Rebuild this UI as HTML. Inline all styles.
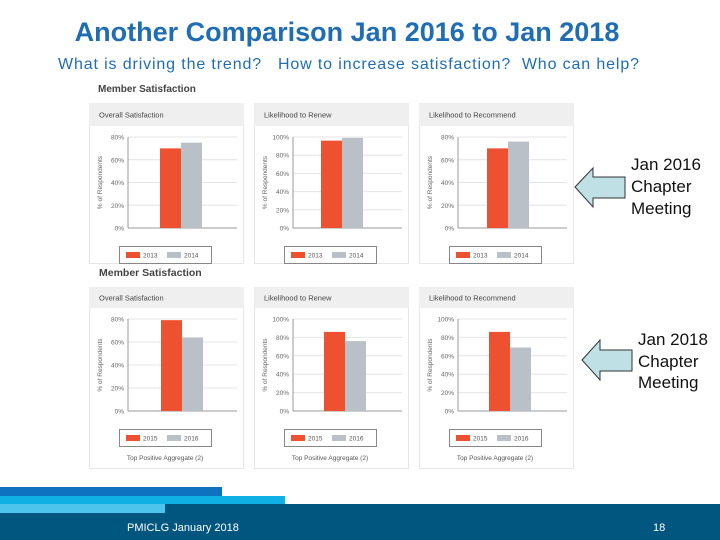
<!DOCTYPE html>
<html><head><meta charset="utf-8">
<style>
html,body{margin:0;padding:0;background:#fff;}
svg{display:block;font-family:"Liberation Sans",Arial,sans-serif;}
</style></head>
<body>
<svg id="s" width="720" height="540" viewBox="0 0 720 540" xmlns="http://www.w3.org/2000/svg">
<text x="347" y="41" text-anchor="middle" font-size="27" font-weight="bold" fill="#1f6db3">Another Comparison Jan 2016 to Jan 2018</text>
<text x="58" y="69" font-size="16" fill="#1f6db3" textLength="581" lengthAdjust="spacing" style="white-space:pre">What is driving the trend?   How to increase satisfaction?  Who can help?</text>
<text x="98" y="92" font-size="10" font-weight="bold" fill="#444">Member Satisfaction</text>
<text x="99" y="276" font-size="10.5" font-weight="bold" fill="#444">Member Satisfaction</text>
<g id="charts"></g>
<path d="M575 187 L593 168 L593 177 L625 177 L625 198 L593 198 L593 207 Z" fill="#bfe0e4" stroke="#333" stroke-width="1"/>
<text font-size="17" fill="#111"><tspan x="631" y="170">Jan 2016</tspan><tspan x="631" y="192">Chapter</tspan><tspan x="631" y="214">Meeting</tspan></text>
<path d="M582 360 L600 340 L600 350 L632 350 L632 371 L600 371 L600 380 Z" fill="#bfe0e4" stroke="#333" stroke-width="1"/>
<text font-size="17" fill="#111"><tspan x="638" y="345">Jan 2018</tspan><tspan x="638" y="367">Chapter</tspan><tspan x="638" y="388">Meeting</tspan></text>
<rect x="0" y="504" width="720" height="36" fill="#00567e"/>
<rect x="0" y="487" width="222" height="9" fill="#0f72c0"/>
<rect x="0" y="496" width="285" height="8" fill="#0fb0e4"/>
<rect x="0" y="504" width="165" height="9" fill="#4cc4ec"/>
<text x="127" y="531" font-size="11" fill="#fff">PMICLG January 2018</text>
<text x="653" y="531" font-size="11" fill="#fff">18</text>
</svg>
<script>
const titles = ["Overall Satisfaction","Likelihood to Renew","Likelihood to Recommend"];
const topYears = ["2013","2014"];
const bottomYears = ["2015","2016"];
const topA = [70, 96, 70];
const topB = [75, 99, 76];
const botA = [79, 86, 86];
const botB = [64, 76, 69];
const topMax = [80, 100, 80];
const botMax = [80, 100, 100];

const NS="http://www.w3.org/2000/svg";
const root=document.getElementById('charts');
function mk(tag,attrs,parent,text){const e=document.createElementNS(NS,tag);for(const k in attrs)e.setAttribute(k,attrs[k]);if(text!==undefined)e.textContent=text;(parent||root).appendChild(e);return e;}

function drawRow(row){
  const panelX=[89,254,419], pw=154;
  for(let i=0;i<3;i++){
    const px=panelX[i];
    const g=mk('g',{});
    
    
    const panel=mk('rect',{x:px+0.5,y:row.headTop+0.5,width:pw,height:row.panelBottom-row.headTop,fill:'#fff',stroke:'#e6e6e6'},g);
    
    
    const head=mk('rect',{x:px,y:row.headTop,width:pw+1,height:row.headH,fill:'#efefef'},g);
    
    
    const ht=mk('text',{x:px+10,y:row.headTop+row.headH/2+3,'font-size':7.5,fill:'#444'},g,titles[i]);
    
    
    const x0=px+39, x1=px+148, yTop=row.plotTop, yBot=row.plotBot;
    const max=row.max[i];
    const y=v=>yBot-(v/max)*(yBot-yTop);
    for(let t=0;t<=max;t+=20){
      const yy=y(t);
      mk('line',{x1:x0,x2:x1,y1:yy,y2:yy,stroke:t===0?'#999':'#e4e4e4','stroke-width':1},g);
      const tl=mk('text',{x:x0-4,y:yy+2.5,'font-size':6.5,fill:'#666','text-anchor':'end'},g,t+'%');
      
      
    }
    mk('line',{x1:x0,x2:x0,y1:yTop,y2:yBot,stroke:'#999'},g);
    const yt=mk('text',{x:0,y:0,'font-size':6.5,fill:'#666','text-anchor':'middle',transform:`translate(${px+13},${(yTop+yBot)/2}) rotate(-90)`},g,'% of Respondents');
    
    
    const cx=px+row.centers[i], bw=21;
    const b1=mk('rect',{x:cx-bw,y:y(row.a[i]),width:bw,height:yBot-y(row.a[i]),fill:'#ee5130'},g);
    
    
    const b2=mk('rect',{x:cx,y:y(row.b[i]),width:bw,height:yBot-y(row.b[i]),fill:'#b9c0c7'},g);
    
    
    const lx=px+30, ly=row.legTop;
    const lg=mk('rect',{x:lx+0.5,y:ly+0.5,width:92,height:17,fill:'#fff',stroke:'#888'},g);
    
    
    mk('rect',{x:lx+7,y:ly+6,width:14,height:6,fill:'#ee5130'},g);
    mk('text',{x:lx+24,y:ly+11.5,'font-size':6.5,fill:'#555'},g,row.years[0]);
    mk('rect',{x:lx+48,y:ly+6,width:14,height:6,fill:'#b9c0c7'},g);
    mk('text',{x:lx+65,y:ly+11.5,'font-size':6.5,fill:'#555'},g,row.years[1]);
    if(row.foot){
      const f=mk('text',{x:lx+46,y:ly+31,'font-size':6.5,fill:'#555','text-anchor':'middle'},g,'Top Positive Aggregate (2)');
      
      
    }
  }
}
drawRow({key:'top',headTop:103,headH:23,panelBottom:263,plotTop:137,plotBot:228,max:topMax,a:topA,b:topB,years:topYears,legTop:246,foot:false,centers:[92,88,89]});
drawRow({key:'bottom',headTop:287,headH:21,panelBottom:468,plotTop:319,plotBot:411,max:botMax,a:botA,b:botB,years:bottomYears,legTop:429,foot:true,centers:[93,91,91]});
</script>
</body></html>
